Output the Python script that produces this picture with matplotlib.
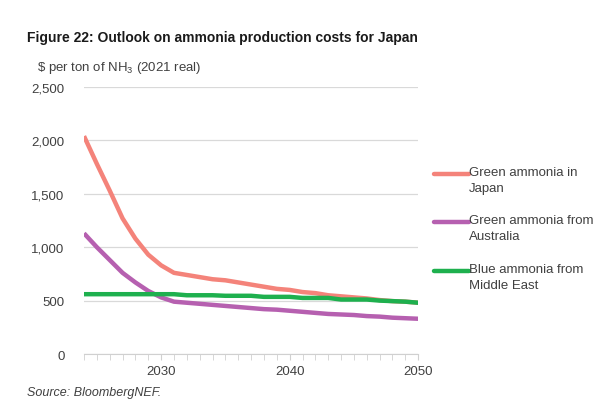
import matplotlib
matplotlib.use('Agg')
import matplotlib.pyplot as plt
from matplotlib.lines import Line2D
import numpy as np

plt.rcParams['font.family'] = ['Liberation Sans', 'DejaVu Sans']
plt.rcParams['mathtext.fontset'] = 'custom'
plt.rcParams['mathtext.rm'] = 'Liberation Sans'

years = list(range(2024, 2051))
japan = [2040, 1780, 1530, 1270, 1080, 930, 830, 760, 740, 720, 700, 690, 670, 650,
         630, 610, 600, 580, 570, 550, 540, 530, 520, 505, 495, 490, 480]
australia = [1130, 1000, 880, 760, 670, 590, 530, 490, 480, 470, 460, 450, 440, 430,
             420, 415, 405, 395, 385, 375, 370, 365, 355, 350, 340, 335, 330]
blue = [560, 560, 560, 560, 560, 560, 560, 560, 550, 550, 550, 545, 545, 545,
        535, 535, 535, 525, 525, 525, 510, 510, 510, 500, 495, 490, 480]

series = [
    (japan, '#F4837A', 'Green ammonia in\nJapan'),
    (australia, '#B660B0', 'Green ammonia from\nAustralia'),
    (blue, '#1EB04E', 'Blue ammonia from\nMiddle East'),
]

fig = plt.figure(figsize=(6, 4.14), dpi=100)
ax = fig.add_axes([0.14, 0.1425, 0.557, 0.645])

for vals, col, lab in series:
    ax.plot(years, vals, color=col, lw=3.2, solid_capstyle='butt')

ax.set_xlim(2024, 2050)
ax.set_ylim(0, 2500)
ax.set_yticks([0, 500, 1000, 1500, 2000, 2500])
ax.set_yticklabels(['0', '500', '1,000', '1,500', '2,000', '2,500'])
ax.set_xticks([2030, 2040, 2050])
ax.set_xticks(years, minor=True)
ax.grid(axis='y', color='#d9d9d9', lw=0.9)
ax.set_axisbelow(True)
for s in ['left', 'right', 'top']:
    ax.spines[s].set_visible(False)
ax.spines['bottom'].set_color('#d0d0d0')
ax.tick_params(axis='y', length=0, labelsize=9.5, labelcolor='#404040', pad=14)
ax.tick_params(axis='x', which='both', length=4, color='#d0d0d0', labelsize=9.5,
               labelcolor='#404040', pad=4)

fig.text(0.045, 0.908, 'Figure 22: Outlook on ammonia production costs for Japan',
         fontsize=10, fontweight='bold', color='#1a1a1a', va='center')
fig.text(0.062, 0.835, '\\$ per ton of NH$_3$ (2021 real)', fontsize=9.5,
         color='#404040', va='center')
fig.text(0.045, 0.05, 'Source: BloombergNEF.', fontsize=9, style='italic',
         color='#404040', va='center')

# legend drawn by hand so the line sits at the first text line
leg_y = [0.578, 0.462, 0.343]
for (vals, col, lab), y in zip(series, leg_y):
    fig.add_artist(Line2D([0.723, 0.782], [y, y], color=col, lw=3.2,
                          transform=fig.transFigure, solid_capstyle='round'))
    fig.text(0.782, y + 0.019, lab, fontsize=9.5, color='#404040', va='top',
             linespacing=1.45)

plt.savefig('out.png', dpi=100)
